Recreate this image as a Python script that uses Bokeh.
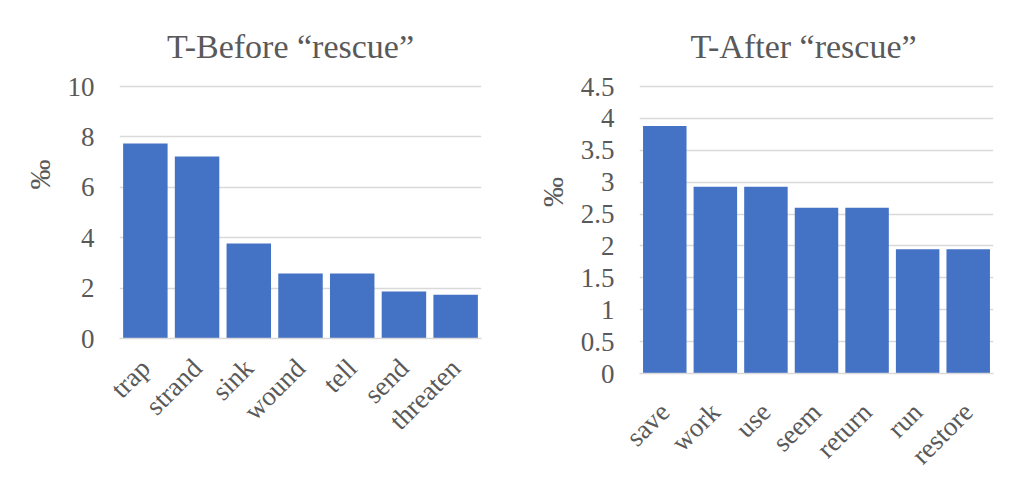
from bokeh.plotting import figure
from bokeh.layouts import row
from bokeh.models import FixedTicker, Label
from bokeh.embed import file_html
from bokeh.resources import INLINE
import math

before_words = ["trap", "strand", "sink", "wound", "tell", "send", "threaten"]
before_vals = [7.74, 7.22, 3.77, 2.58, 2.58, 1.87, 1.74]
before_ticks = [0, 2, 4, 6, 8, 10]

after_words = ["save", "work", "use", "seem", "return", "run", "restore"]
after_vals = [3.88, 2.93, 2.93, 2.60, 2.60, 1.95, 1.95]
after_ticks = [0, 0.5, 1, 1.5, 2, 2.5, 3, 3.5, 4, 4.5]
after_tick_labels = ["0", "0.5", "1", "1.5", "2", "2.5", "3", "3.5", "4", "4.5"]

FONT = "Liberation Serif"
TXT = "#595959"
GRID = "#d9d9d9"
BAR = "#4472C4"

TOP_BORDER = 10      # px above the (extended) frame
AXIS_TOP_PX = 86     # pixel row of the highest gridline
BOTTOM_BORDER = 111


def make(title, words, vals, ymax, ticks, labels, height, left, right, title_dx, x_standoff):
    frame_bottom = height - BOTTOM_BORDER
    # extend the range above the last tick so the title fits inside the frame
    y_end = ymax * (frame_bottom - TOP_BORDER) / (frame_bottom - AXIS_TOP_PX)
    p = figure(width=500, height=height, x_range=words, y_range=(0, y_end),
               output_backend="svg", toolbar_location=None,
               min_border_left=left, min_border_right=right,
               min_border_top=TOP_BORDER, min_border_bottom=BOTTOM_BORDER)
    p.vbar(x=words, top=vals, width=0.86, color=BAR, line_color=None)
    p.x_range.range_padding = 0
    p.outline_line_color = None
    p.background_fill_color = "white"
    p.border_fill_color = "white"

    p.add_layout(Label(x=len(words) / 2, y=ymax, x_offset=title_dx, y_offset=40,
                       text=title, text_font=FONT, text_font_size="34px",
                       text_color=TXT, text_align="center",
                       text_baseline="alphabetic"))

    p.xgrid.grid_line_color = None
    p.ygrid.grid_line_color = GRID
    p.ygrid.grid_line_width = 1.4

    ya = p.yaxis[0]
    ya.ticker = FixedTicker(ticks=ticks)
    ya.major_label_overrides = {t: l for t, l in zip(ticks, labels)}
    ya.axis_line_color = None
    ya.major_tick_line_color = None
    ya.minor_tick_line_color = None
    ya.major_tick_out = 0
    ya.major_tick_in = 0
    ya.major_label_standoff = 25
    ya.major_label_text_font = FONT
    ya.major_label_text_font_size = "27px"
    ya.major_label_text_color = TXT
    ya.axis_label = "‰"
    ya.axis_label_text_font = FONT
    ya.axis_label_text_font_size = "30px"
    ya.axis_label_text_font_style = "normal"
    ya.axis_label_text_color = TXT
    ya.axis_label_standoff = 9

    xa = p.xaxis[0]
    xa.axis_line_color = GRID
    xa.axis_line_width = 1.6
    xa.major_tick_line_color = None
    xa.minor_tick_line_color = None
    xa.major_tick_out = 6
    xa.major_label_orientation = math.pi / 4
    xa.major_label_standoff = x_standoff
    xa.major_label_text_font = FONT
    xa.major_label_text_font_size = "27px"
    xa.major_label_text_color = TXT
    return p


p1 = make("T-Before \u201crescue\u201d", before_words, before_vals, 10,
          before_ticks, [str(t) for t in before_ticks], 449, 119, 19, -10, 19)
p2 = make("T-After \u201crescue\u201d", after_words, after_vals, 4.5,
          after_ticks, after_tick_labels, 484, 139, 7, -13, 28)

layout = row(p1, p2, spacing=0)
open("out.html", "w").write(file_html(layout, INLINE))
